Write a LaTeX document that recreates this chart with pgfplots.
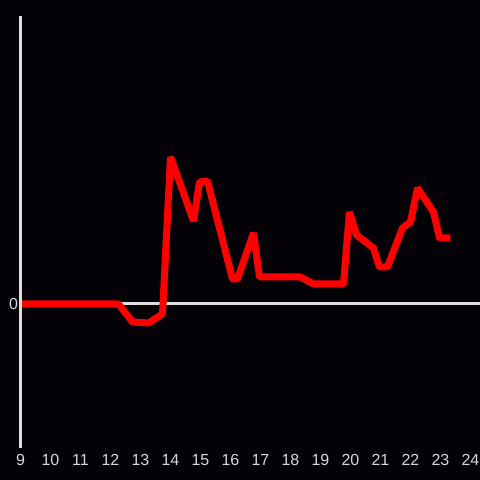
\documentclass[border=0pt]{standalone}
\usepackage{pgfplots}
\pgfplotsset{compat=1.18}
\usepackage{fontspec}
\setmainfont{Liberation Sans}
\definecolor{bg}{RGB}{4,2,7}
\definecolor{axgray}{RGB}{222,222,222}
\definecolor{lblgray}{RGB}{215,215,215}
\begin{document}
\begin{tikzpicture}
\fill[bg] (0pt,0pt) rectangle (480pt,480pt);
\begin{axis}[
  at={(20.5pt,32pt)}, anchor=south west,
  scale only axis, width=459.5pt, height=432pt,
  xmin=9, xmax=24.3167, ymin=-144, ymax=288,
  axis lines=left,
  x axis line style={draw=none},
  y axis line style={axgray, line width=3pt, -},
  axis on top,
  xtick={9,10,...,24}, ytick={0},
  major tick length=0pt,
  tick label style={lblgray, font=\fontsize{16}{18}\selectfont},
  /pgf/number format/assume math mode=true,
  xticklabel style={yshift=-3pt},
  yticklabel style={xshift=1pt},
  clip=false,
]
\draw[axgray, line width=3pt] (axis cs:9,0) -- (axis cs:24.3167,0);
\addplot[red, line width=7pt, line join=bevel, mark=none] coordinates {
(9.000,0) (12.267,0) (12.733,-18) (13.267,-19) (13.733,-10)
(14.000,147) (14.767,83) (14.967,122) (15.233,123) (16.067,25)
(16.233,25) (16.767,71) (16.967,27) (18.333,27) (18.767,20)
(19.767,20) (19.967,92) (20.200,69) (20.767,56) (20.967,37)
(21.233,37) (21.733,76) (22.000,82) (22.233,116) (22.767,92)
(22.967,66) (23.333,66)
};
\end{axis}
\pgfresetboundingbox
\useasboundingbox (0pt,0pt) rectangle (480pt,480pt);
\end{tikzpicture}
\end{document}
